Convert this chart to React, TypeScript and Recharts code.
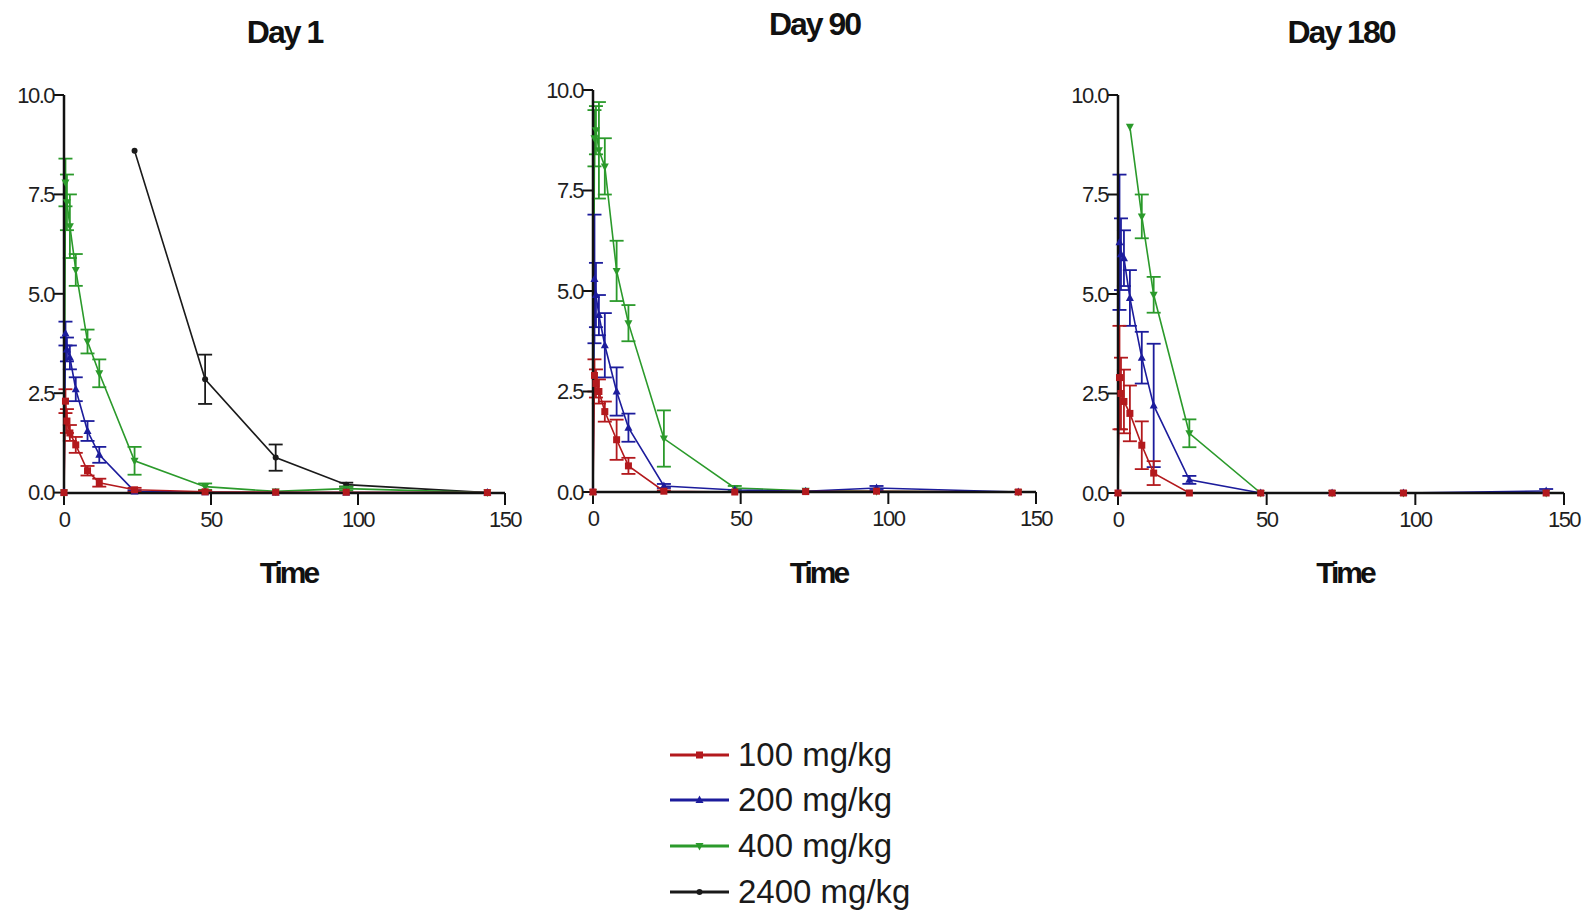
import React from 'react';
import { LineChart, Line, XAxis, YAxis, ErrorBar } from 'recharts';

// sampling times (h)
const TIMES = [0, 0.5, 1, 2, 4, 8, 12, 24, 48, 72, 96, 144];
const X_TICKS = [0, 50, 100, 150];
const Y_TICKS = [0, 2.5, 5, 7.5, 10];

// Day 1
const D1_100 = [0, 2.3, 1.8, 1.5, 1.2, 0.55, 0.25, 0.07, 0.02, 0.01, 0.01, 0];
const D1_100_SD = [0, 0.3, 0.3, 0.2, 0.2, 0.12, 0.1, 0.05, 0.03, 0, 0, 0];
const D1_200 = [0, 4.0, 3.6, 3.4, 2.6, 1.55, 0.95, 0.03, 0.01, 0, 0, 0];
const D1_200_SD = [0, 0.3, 0.3, 0.3, 0.3, 0.25, 0.2, 0.03, 0, 0, 0, 0];
const D1_400 = [0, 7.8, 7.3, 6.7, 5.6, 3.8, 3.0, 0.8, 0.15, 0.03, 0.1, 0];
const D1_400_SD = [0, 0.6, 0.7, 0.8, 0.4, 0.3, 0.35, 0.35, 0.08, 0, 0.05, 0];
const D1_2400 = [null, null, null, null, null, null, null, 8.6, 2.85, 0.88, 0.2, 0];
const D1_2400_SD = [0, 0, 0, 0, 0, 0, 0, 0, 0.62, 0.33, 0.05, 0];

// Day 90
const D90_100 = [0, 2.9, 2.7, 2.5, 2.0, 1.3, 0.65, 0.02, 0, 0.01, 0.02, 0];
const D90_100_SD = [0, 0.4, 0.35, 0.3, 0.25, 0.5, 0.2, 0.02, 0, 0, 0, 0];
const D90_200 = [0, 5.3, 4.9, 4.4, 3.65, 2.5, 1.6, 0.15, 0.05, 0.02, 0.1, 0];
const D90_200_SD = [0, 1.6, 0.8, 0.5, 0.8, 0.6, 0.35, 0.05, 0, 0, 0.05, 0];
const D90_400 = [0, 8.8, 9.0, 8.5, 8.1, 5.5, 4.2, 1.33, 0.1, 0.03, 0.02, 0];
const D90_400_SD = [0, 0.7, 0.6, 1.2, 0.7, 0.75, 0.45, 0.7, 0.05, 0, 0, 0];

// Day 180
const D180_100 = [0, 2.9, 2.5, 2.3, 2.0, 1.2, 0.5, 0, 0, 0, 0, 0];
const D180_100_SD = [0, 1.3, 0.9, 0.8, 0.7, 0.6, 0.3, 0, 0, 0, 0, 0];
const D180_200 = [0, 6.3, 6.0, 5.9, 4.9, 3.4, 2.2, 0.33, 0, 0, 0, 0.05];
const D180_200_SD = [0, 1.7, 0.9, 0.7, 0.7, 0.65, 1.55, 0.1, 0, 0, 0, 0.05];
const D180_400 = [null, null, null, null, 9.2, 6.95, 4.98, 1.5, 0, 0, 0, 0];
const D180_400_SD = [0, 0, 0, 0, 0, 0.55, 0.45, 0.35, 0, 0, 0, 0];

const RED = '#b3191d';
const BLUE = '#1c1c9c';
const GREEN = '#2b9a2b';
const BLACK = '#1a1a1a';
const FONT = '"Liberation Sans", Arial, sans-serif';

const rows = (vals: (number | null)[], sds: number[]) =>
  TIMES.map((t, i) => ({ t, v: vals[i], e: sds[i] ? sds[i] : undefined })).filter(r => r.v !== null);

const marker = (kind: string, cx: number, cy: number, c: string, key?: any) => {
  if (kind === 'square') return <rect key={key} x={cx - 3.5} y={cy - 3.5} width={7} height={7} fill={c} />;
  if (kind === 'up') return <polygon key={key} points={`${cx},${cy - 4.5} ${cx + 4},${cy + 3} ${cx - 4},${cy + 3}`} fill={c} />;
  if (kind === 'down') return <polygon key={key} points={`${cx},${cy + 4.5} ${cx + 4},${cy - 3} ${cx - 4},${cy - 3}`} fill={c} />;
  return <circle key={key} cx={cx} cy={cy} r={3} fill={c} />;
};

const SERIES = [
  { name: '100 mg/kg', color: RED, kind: 'square' },
  { name: '200 mg/kg', color: BLUE, kind: 'up' },
  { name: '400 mg/kg', color: GREEN, kind: 'down' },
  { name: '2400 mg/kg', color: BLACK, kind: 'dot' },
];

function Panel({ title, titleY, left, right, top, bottom, data }: any) {
  const w = right - left + 63 + 20;
  const h = 600;
  const cx = (left + right) / 2;
  return (
    <>
      <div style={{ position: 'absolute', left: left - 63, top: 0 }}>
        <LineChart width={w} height={h} margin={{ top, right: 20, bottom: h - bottom - 40, left: 13 }}>
          <XAxis type="number" dataKey="t" domain={[0, 150]} ticks={X_TICKS} height={40}
            axisLine={{ stroke: '#111', strokeWidth: 2.5 }} tickLine={{ stroke: '#111', strokeWidth: 2 }}
            tickSize={12} tickMargin={6}
            tick={{ fill: '#1e1e1e', fontSize: 22, fontFamily: FONT, letterSpacing: -1.5 }} allowDuplicatedCategory={false} />
          <YAxis type="number" domain={[0, 10]} ticks={Y_TICKS} width={50}
            axisLine={{ stroke: '#111', strokeWidth: 2.5 }} tickLine={{ stroke: '#111', strokeWidth: 2 }}
            tickSize={10} tickMargin={0} tickFormatter={(v: number) => v.toFixed(1)}
            tick={{ fill: '#1e1e1e', fontSize: 22, fontFamily: FONT, letterSpacing: -1.5 }} />
          {data.map((d: any, si: number) => {
            if (!d) return null;
            const s = SERIES[si];
            return (
              <Line key={s.name} data={d} dataKey="v" stroke={s.color} strokeWidth={1.6}
                isAnimationActive={false}
                dot={(p: any) => marker(s.kind, p.cx, p.cy, s.color, `${s.name}-${p.index}`)}
                activeDot={false}>
                <ErrorBar dataKey="e" width={7} stroke={s.color} strokeWidth={1.8} direction="y" />
              </Line>
            );
          }).reverse()}
        </LineChart>
      </div>
      <div style={{ position: 'absolute', left: cx - 150, width: 300, top: titleY - 20, textAlign: 'center',
        fontFamily: FONT, fontWeight: 700, fontSize: 32, letterSpacing: -2, lineHeight: '40px', color: '#111' }}>
        {title}
      </div>
      <div style={{ position: 'absolute', left: cx - 150 + 4, width: 300, top: 553, textAlign: 'center',
        fontFamily: FONT, fontWeight: 700, fontSize: 30, letterSpacing: -3, lineHeight: '40px', color: '#111' }}>
        Time
      </div>
    </>
  );
}

export default function App() {
  const day1 = [rows(D1_100, D1_100_SD), rows(D1_200, D1_200_SD), rows(D1_400, D1_400_SD), rows(D1_2400, D1_2400_SD)];
  const day90 = [rows(D90_100, D90_100_SD), rows(D90_200, D90_200_SD), rows(D90_400, D90_400_SD), null];
  const day180 = [rows(D180_100, D180_100_SD), rows(D180_200, D180_200_SD), rows(D180_400, D180_400_SD), null];
  const legendY = [755, 800, 846, 892];
  return (
    <div style={{ position: 'absolute', left: 0, top: 0, width: 1592, height: 911, background: '#fff' }}>
      <Panel title="Day 1" titleY={32} left={64} right={505} top={95} bottom={493} data={day1} />
      <Panel title="Day 90" titleY={24} left={593} right={1036} top={90} bottom={492} data={day90} />
      <Panel title="Day 180" titleY={32} left={1118} right={1564} top={95} bottom={493} data={day180} />

      {/* Legend */}
      <svg style={{ position: 'absolute', left: 660, top: 730 }} width={80} height={180}>
        {SERIES.map((s, i) => (
          <g key={s.name}>
            <line x1={10} x2={69} y1={legendY[i] - 730} y2={legendY[i] - 730} stroke={s.color} strokeWidth={3} />
            {marker(s.kind, 39.5, legendY[i] - 730, s.color)}
          </g>
        ))}
      </svg>
      {SERIES.map((s, i) => (
        <div key={s.name} style={{ position: 'absolute', left: 738, top: legendY[i] - 20, lineHeight: '40px',
          fontFamily: FONT, fontSize: 33, color: '#1a1a1a' }}>
          {s.name}
        </div>
      ))}
    </div>
  );
}
